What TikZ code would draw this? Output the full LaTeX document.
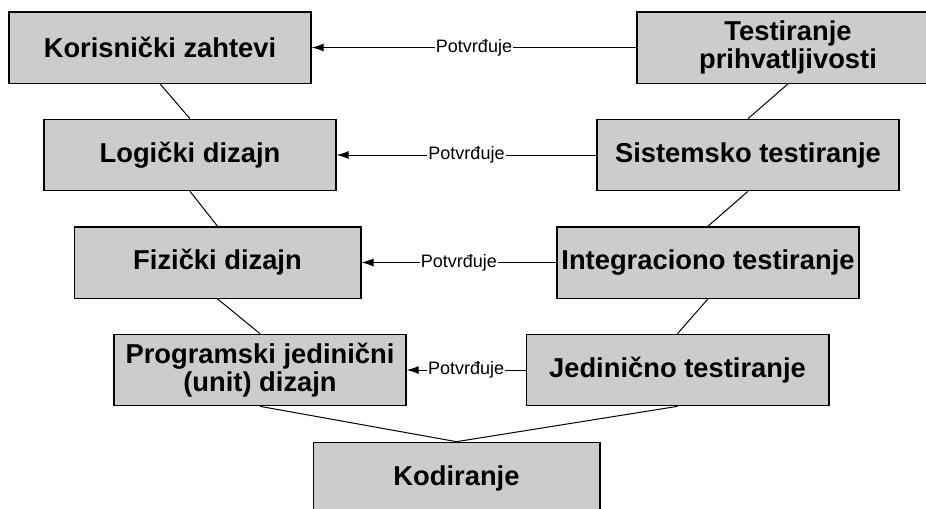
\documentclass[tikz,border=0pt]{standalone}
\usepackage{fontspec}
\setmainfont{Liberation Sans}
\usepackage{xcolor}
\usepackage{tikz}
\usetikzlibrary{arrows.meta, positioning}
\definecolor{boxgray}{RGB}{204,204,204}
\tikzset{
    phase/.style={
        rectangle, draw=black, fill=boxgray, line width=1pt,
        minimum height=53.5pt, inner sep=2pt, align=center,
        font=\fontsize{20.5}{21.5}\selectfont\bfseries
    },
    link/.style={draw, line width=0.75pt},
    check/.style={draw, line width=0.75pt, -{Latex[length=9pt,width=6pt]}},
    tag/.style={fill=white, inner sep=1pt, font=\fontsize{13.5}{15}\selectfont}
}

\begin{document}
\begin{tikzpicture}[x=0.75pt, y=-0.75pt]
    \useasboundingbox (0,0) rectangle (926,508);

    % left side
    \node (Req) [phase, minimum width=226.5pt] at (160,47.5) {Korisnički zahtevi};
    \node (Logic) [phase, minimum width=219pt] at (190,155) {Logički dizajn};
    \node (Phys) [phase, minimum width=215pt] at (217.5,262.5) {Fizički dizajn};
    \node (Unit) [phase, minimum width=219pt] at (260,370) {Programski jedinični\\(unit) dizajn};

    % bottom
    \node (Code) [phase, minimum width=215pt] at (456.5,478) {Kodiranje};

    % right side
    \node (UnitTest) [phase, minimum width=227pt] at (677.5,370) {Jedinično testiranje};
    \node (IntTest) [phase, minimum width=226.5pt] at (708,262.5) {Integraciono testiranje};
    \node (SysTest) [phase, minimum width=226.5pt] at (748,155) {Sistemsko testiranje};
    \node (AccTest) [phase, minimum width=226.5pt] at (788,47.5) {Testiranje\\prihvatljivosti};

    \draw [link] (Req.south) -- (Logic.north);
    \draw [link] (Logic.south) -- (Phys.north);
    \draw [link] (Phys.south) -- (Unit.north);
    \draw [link] (Unit.south) -- (Code.north);
    \draw [link] (UnitTest.south) -- (Code.north);
    \draw [link] (IntTest.south) -- (UnitTest.north);
    \draw [link] (SysTest.south) -- (IntTest.north);
    \draw [link] (AccTest.south) -- (SysTest.north);

    \draw [check] (AccTest.west) -- node[tag]{Potvrđuje} (Req.east);
    \draw [check] (SysTest.west) -- node[tag]{Potvrđuje} (Logic.east);
    \draw [check] (IntTest.west) -- node[tag]{Potvrđuje} (Phys.east);
    \draw [check] (UnitTest.west) -- node[tag]{Potvrđuje} (Unit.east);
\end{tikzpicture}
\end{document}
